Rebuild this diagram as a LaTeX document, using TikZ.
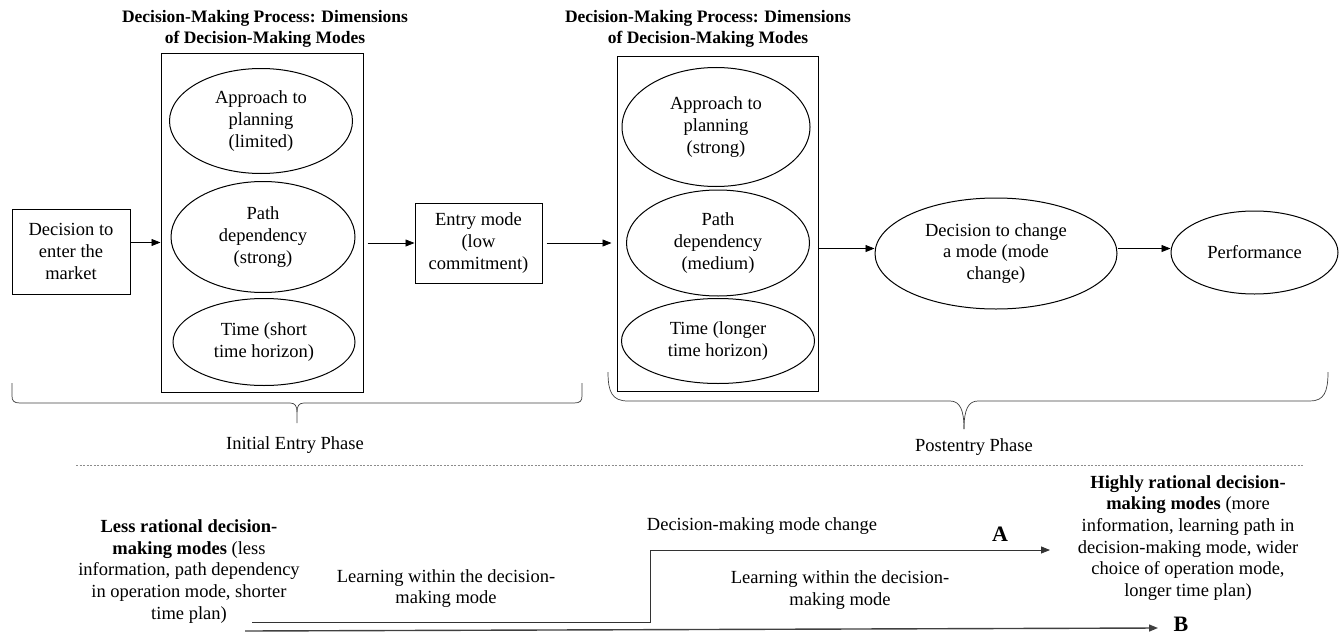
\documentclass[tikz,border=0pt]{standalone}
\usepackage{fontspec}
\setmainfont{Liberation Serif}
\usetikzlibrary{shapes.geometric,arrows.meta}
\begin{document}
\begin{tikzpicture}[x=1pt,y=-1pt,
  txt/.style={font=\fontsize{18.5}{21.7}\selectfont, align=center, inner sep=0pt},
  ttl/.style={font=\bfseries\fontsize{17.5}{21}\selectfont, align=center, inner sep=0pt},
  bx/.style={draw, line width=1pt, inner sep=0pt},
  ell/.style={ellipse, draw, line width=1pt, inner sep=0pt, txt},
  arr/.style={-{Triangle[length=9pt,width=7pt]}, line width=0.7pt},
  brace/.style={line width=0.7pt, draw=black!75},
  big/.style={font=\bfseries\fontsize{22}{24}\selectfont, inner sep=0pt}]
\useasboundingbox (0,0) rectangle (1340,634);

% left part
\node[ttl] (t1) at (265,28.5) {Decision-Making Process: Dimensions\\of Decision-Making Modes};
\node[bx, minimum width=202pt, minimum height=338pt] (b1) at (262,223) {};
\node[ell, minimum width=183pt, minimum height=105pt] (e1a) at (261,121) {Approach to\\planning\\(limited)};
\node[ell, minimum width=184pt, minimum height=111pt] (e1b) at (263,237) {Path\\dependency\\(strong)};
\node[ell, minimum width=182pt, minimum height=87pt] (e1c) at (264,342) {Time (short\\time horizon)};
\node[bx, txt, minimum width=118pt, minimum height=85pt] (dec) at (71,251.5) {Decision to\\enter the\\market};
\node[bx, txt, minimum width=127pt, minimum height=80pt] (entry) at (478.5,243) {Entry mode\\(low\\commitment)};

\draw[arr] ([yshift=9pt]dec.east) -- ([yshift=9pt]dec.east -| b1.west);
\draw[arr] ([xshift=4pt]b1.east |- entry.west) -- (entry.west);

% right part
\node[ttl] (t2) at (708,28.5) {Decision-Making Process: Dimensions\\of Decision-Making Modes};
\node[bx, minimum width=201pt, minimum height=334pt] (b2) at (717.5,224) {};
\node[ell, minimum width=188pt, minimum height=119pt] (e2a) at (716,127) {Approach to\\planning\\(strong)};
\node[ell, minimum width=183pt, minimum height=106pt] (e2b) at (718,243) {Path\\dependency\\(medium)};
\node[ell, minimum width=193pt, minimum height=85pt] (e2c) at (718,341) {Time (longer\\time horizon)};
\node[ell, minimum width=242pt, minimum height=111pt] (eD) at (996,253.5) {Decision to change\\a mode (mode\\change)};
\node[ell, minimum width=167pt, minimum height=83pt] (perf) at (1254.5,252.5) {Performance};

\draw[arr] ([xshift=4pt]entry.east) -- ([xshift=-5pt]entry.east -| b2.west);
\draw[arr] ([yshift=5pt]eD.west -| b2.east) -- ([yshift=5pt]eD.west);
\draw[arr] ([yshift=5pt]eD.east) -- ([yshift=5pt]eD.east -| perf.west);

% braces
\draw[brace] (12,383) -- (12,396) .. controls (12,401) and (14,403) .. (20,403) -- (290,403)
  .. controls (295,403) and (297,406) .. (297,412) -- (297,423);
\draw[brace] (582,383) -- (582,396) .. controls (582,401) and (580,403) .. (574,403) -- (304,403)
  .. controls (299,403) and (297,406) .. (297,412);
\draw[brace] (608,372) .. controls (608,392) and (612,401) .. (628,401) -- (950,401)
  .. controls (960,401) and (964,410) .. (964,429);
\draw[brace] (1328,372) .. controls (1328,392) and (1324,401) .. (1310,401) -- (978,401)
  .. controls (968,401) and (964,410) .. (964,429);
\node[txt] (ph1) at (295,445) {Initial Entry Phase};
\node[txt] (ph2) at (974,447) {Postentry Phase};

\draw[black!45, dash pattern=on 2pt off 1.5pt, line width=0.5pt] (76,465) -- (1303,465);

% bottom
\node[txt] (less) at (189,571.5) {\textbf{Less rational decision-}\\\textbf{making modes} (less\\information, path dependency\\in operation mode, shorter\\time plan)};
\node[txt] (high) at (1188,538) {\textbf{Highly rational decision-}\\\textbf{making modes} (more\\information, learning path in\\decision-making mode, wider\\choice of operation mode,\\longer time plan)};
\node[txt] (learn1) at (446,588.5) {Learning within the decision-\\making mode};
\node[txt] (learn2) at (840,590) {Learning within the decision-\\making mode};
\node[txt] (chg) at (762,526) {Decision-making mode change};
\node[big] (A) at (1000,534) {A};
\node[big] (B) at (1181,624) {B};

\coordinate (s1) at (252,622);
\coordinate (k1) at (650,622);
\coordinate (k2) at (650,550);
\coordinate (a1) at (1050,550);
\coordinate (s2) at (245,631);
\coordinate (b1e) at (1158,628);
\draw[arr, line width=0.8pt, draw=black!80] (s1) -- (k1) -- (k2) -- (a1);
\draw[arr, line width=1.4pt, draw=black!75] (s2) -- (b1e);
\end{tikzpicture}
\end{document}
